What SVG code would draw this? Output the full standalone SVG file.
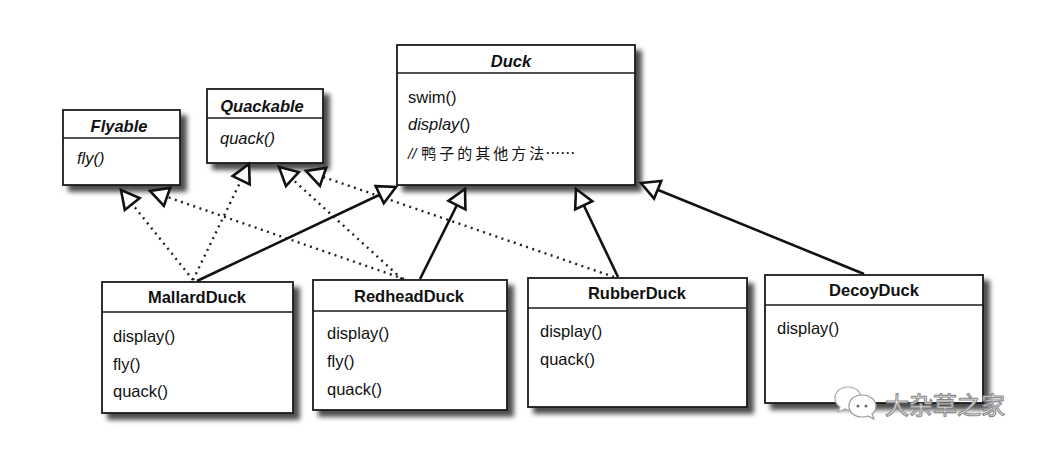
<svg xmlns="http://www.w3.org/2000/svg" width="1044" height="452" viewBox="0 0 1044 452">
  <style>
    .box { fill: #fff; stroke: #1a1a1a; stroke-width: 1.8; }
    .div { stroke: #1a1a1a; stroke-width: 1.6; }
    .title { font-family: "Liberation Sans", Arial, sans-serif; font-size: 16.5px; font-weight: bold; fill: #111; text-anchor: middle; }
    .ititle { font-style: italic; }
    .m { font-family: "Liberation Sans", Arial, sans-serif; font-size: 16.5px; fill: #111; }
    .im { font-style: italic; }
    .solid { fill: none; stroke: #111; stroke-width: 2.6; }
    .dot { fill: none; stroke: #222; stroke-width: 2.4; stroke-dasharray: 2 4.5; }
    .wm { font-family: "Noto Sans CJK SC", sans-serif; font-size: 24px; fill: #fff; stroke: #8a8a8a; stroke-width: 1.1; }
  </style>
  <defs>
    <filter id="sh" x="-10%" y="-10%" width="130%" height="140%">
      <feGaussianBlur in="SourceAlpha" stdDeviation="2.5"/>
      <feOffset dx="6" dy="6" result="b"/>
      <feComponentTransfer><feFuncA type="linear" slope="0.7"/></feComponentTransfer>
      <feMerge><feMergeNode/><feMergeNode in="SourceGraphic"/></feMerge>
    </filter>
    <marker id="tri" markerUnits="userSpaceOnUse" viewBox="0 0 22 22" markerWidth="22" markerHeight="22" refX="20" refY="11" orient="auto" overflow="visible">
      <path d="M2,1.5 L20,11 L2,20.5 Z" fill="#fff" stroke="#111" stroke-width="2.6" stroke-linejoin="miter"/>
    </marker>
  </defs>
  <rect width="1044" height="452" fill="#fff"/>

  <g id="Flyable">
    <rect class="box" x="63" y="110" width="117" height="75" filter="url(#sh)"/>
    <line class="div" x1="63" y1="138" x2="180" y2="138"/>
    <text class="title ititle" x="119" y="132">Flyable</text>
    <text class="m im" x="77" y="164">fly()</text>
  </g>

  <g id="Quackable">
    <rect class="box" x="207" y="89" width="116" height="74" filter="url(#sh)"/>
    <line class="div" x1="207" y1="118" x2="323" y2="118"/>
    <text class="title ititle" x="262" y="112">Quackable</text>
    <text class="m im" x="220" y="144">quack()</text>
  </g>

  <g id="Duck">
    <rect class="box" x="397" y="45" width="238" height="140" filter="url(#sh)"/>
    <line class="div" x1="397" y1="73" x2="635" y2="73"/>
    <text class="title ititle" x="511" y="67">Duck</text>
    <text class="m" x="408" y="103">swim()</text>
    <text class="m" x="408" y="130"><tspan font-style="italic">display</tspan>()</text>
    <text x="408" y="159" font-family="Liberation Sans, Noto Sans CJK SC, sans-serif" font-size="15" fill="#111"><tspan font-style="italic">//</tspan><tspan dx="5" letter-spacing="3" font-family="Noto Sans CJK SC, sans-serif">鸭子的其他方法</tspan><tspan font-family="Noto Sans CJK SC, sans-serif" dx="-2">……</tspan></text>
  </g>

  <g id="connectors">
    <line class="dot" x1="193" y1="280" x2="121" y2="190" marker-end="url(#tri)"/>
    <line class="dot" x1="404" y1="279" x2="150" y2="191" marker-end="url(#tri)"/>
    <line class="dot" x1="193" y1="280" x2="249" y2="164" marker-end="url(#tri)"/>
    <line class="dot" x1="402" y1="279" x2="279" y2="167" marker-end="url(#tri)"/>
    <line class="dot" x1="614" y1="277" x2="306" y2="171" marker-end="url(#tri)"/>
    <line class="solid" x1="197" y1="281" x2="396" y2="187" marker-end="url(#tri)"/>
    <line class="solid" x1="420" y1="279" x2="465" y2="189" marker-end="url(#tri)"/>
    <line class="solid" x1="618" y1="277" x2="576" y2="189" marker-end="url(#tri)"/>
    <line class="solid" x1="864" y1="274" x2="641" y2="183" marker-end="url(#tri)"/>
  </g>

  <g id="MallardDuck">
    <rect class="box" x="102" y="282" width="191" height="131" filter="url(#sh)"/>
    <line class="div" x1="102" y1="312" x2="293" y2="312"/>
    <text class="title" x="197" y="303">MallardDuck</text>
    <text class="m" x="113" y="342">display()</text>
    <text class="m" x="113" y="370">fly()</text>
    <text class="m" x="113" y="397">quack()</text>
  </g>

  <g id="RedheadDuck">
    <rect class="box" x="313" y="280" width="194" height="130" filter="url(#sh)"/>
    <line class="div" x1="313" y1="311" x2="507" y2="311"/>
    <text class="title" x="409" y="302">RedheadDuck</text>
    <text class="m" x="327" y="339">display()</text>
    <text class="m" x="327" y="367">fly()</text>
    <text class="m" x="327" y="395">quack()</text>
  </g>

  <g id="RubberDuck">
    <rect class="box" x="528" y="278" width="219" height="129" filter="url(#sh)"/>
    <line class="div" x1="528" y1="308" x2="747" y2="308"/>
    <text class="title" x="637" y="299">RubberDuck</text>
    <text class="m" x="540" y="337">display()</text>
    <text class="m" x="540" y="365">quack()</text>
  </g>

  <g id="DecoyDuck">
    <rect class="box" x="765" y="275" width="218" height="128" filter="url(#sh)"/>
    <line class="div" x1="765" y1="305" x2="983" y2="305"/>
    <text class="title" x="874" y="296">DecoyDuck</text>
    <text class="m" x="777" y="334">display()</text>
  </g>

  <g id="watermark">
    <path d="M848,387 C840,387 835,392 835,398 C835,402 837,405 840,407 L838,412 L845,409 C847,410 849,410 851,410 C857,410 861,405 861,398 C861,392 856,387 848,387 Z" fill="#fff" stroke="#aaa" stroke-width="1.2"/>
    <path d="M862,395 C854,395 849,400 849,406 C849,412 854,417 862,417 C864,417 866,417 868,416 L874,419 L872,414 C875,412 876,409 876,406 C876,400 870,395 862,395 Z" fill="#fff" stroke="#999" stroke-width="1.2"/>
    <circle cx="858" cy="406" r="1.6" fill="#777"/>
    <circle cx="866" cy="406" r="1.6" fill="#777"/>
    <text class="wm" x="885" y="414">大杂草之家</text>
  </g>
</svg>
